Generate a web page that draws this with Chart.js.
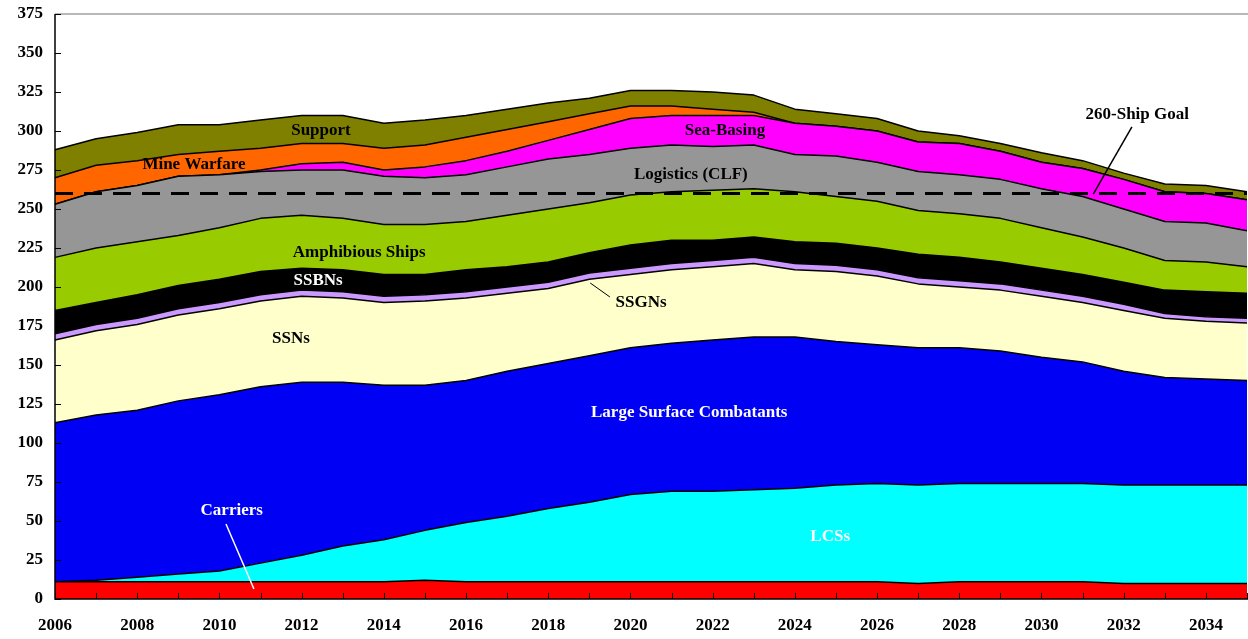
<!DOCTYPE html>
<html>
<head>
<meta charset="utf-8">
<script src="https://cdn.jsdelivr.net/npm/chart.js@4.4.1/dist/chart.umd.min.js"></script>
<style>
html,body{margin:0;padding:0;background:#fff;}
#wrap{width:1248px;height:639px;position:relative;}
</style>
</head>
<body>
<div id="wrap"><canvas id="c" width="1248" height="639"></canvas></div>
<script>
// ---- Data ----
const years = [2006,2007,2008,2009,2010,2011,2012,2013,2014,2015,2016,2017,2018,2019,2020,2021,2022,2023,2024,2025,2026,2027,2028,2029,2030,2031,2032,2033,2034,2035];
const yMin = 0, yMax = 375, yStep = 25;
const goalValue = 260;

const carriers   = [11,11,11,11,11,11,11,11,11,12,11,11,11,11,11,11,11,11,11,11,11,10,11,11,11,11,10,10,10,10];
const lcss       = [0,1,3,5,7,12,17,23,27,32,38,42,47,51,56,58,58,59,60,62,63,63,63,63,63,63,63,63,63,63];
const largeSurf  = [102,106,107,111,113,113,111,105,99,93,91,93,93,94,94,95,97,98,97,92,89,88,87,85,81,78,73,69,68,67];
const ssns       = [53,54,55,55,55,55,55,54,53,54,53,50,48,49,47,47,47,47,43,45,44,41,39,39,39,38,39,38,37,37];
const ssgns      = [4,4,4,4,4,4,4,4,4,4,4,4,4,4,4,4,4,4,4,4,4,4,4,4,4,4,4,3,3,3];
const ssbns      = [15,14,15,15,15,15,14,14,14,13,14,13,13,13,15,15,13,13,14,14,14,15,15,14,14,14,14,15,16,16];
const amphibious = [34,35,34,32,33,34,34,33,32,32,31,33,34,32,32,31,32,31,32,30,30,28,28,28,26,24,22,19,19,17];
const logistics  = [34,36,36,38,34,30,29,31,31,30,30,31,32,31,30,30,28,28,24,26,25,25,25,25,25,26,25,25,25,23];
const seaBasing  = [0,0,0,0,0,1,4,5,4,7,9,10,12,16,19,19,20,19,20,19,20,19,20,18,17,18,19,19,19,20];
const mineWar    = [17,17,16,14,15,14,13,12,14,14,15,14,12,10,8,6,4,2,0,0,0,0,0,0,0,0,0,0,0,0];
const support    = [18,17,18,19,17,18,18,18,16,16,14,13,12,10,10,10,11,11,9,8,8,7,5,5,6,5,4,5,5,5];

const seriesNames = ['Carriers','LCSs','Large Surface Combatants','SSNs','SSGNs','SSBNs','Amphibious Ships','Logistics (CLF)','Sea-Basing','Mine Warfare','Support'];
const seriesData  = [carriers,lcss,largeSurf,ssns,ssgns,ssbns,amphibious,logistics,seaBasing,mineWar,support];
const seriesColors = ['#FF0000','#00FFFF','#0000F5','#FFFFCC','#CC99FF','#000000','#99CC00','#969696','#FF00FF','#FF6600','#808000'];

// ---- Annotations (placed in data coordinates: year, value) ----
const annotations = [
  {text:'Support', x:2012.47, y:300, color:'#000'},
  {text:'Mine Warfare', x:2009.38, y:278.2, color:'#000'},
  {text:'Sea-Basing', x:2022.3, y:300, color:'#000'},
  {text:'Logistics (CLF)', x:2021.47, y:272, color:'#000'},
  {text:'Amphibious Ships', x:2013.4, y:221.8, color:'#000'},
  {text:'SSBNs', x:2012.4, y:203.8, color:'#fff'},
  {text:'SSGNs', x:2020.26, y:189.7, color:'#000'},
  {text:'SSNs', x:2011.74, y:166.7, color:'#000'},
  {text:'Large Surface Combatants', x:2021.43, y:119.2, color:'#fff'},
  {text:'Carriers', x:2010.3, y:56.4, color:'#fff'},
  {text:'LCSs', x:2024.86, y:39.7, color:'#fff'},
  {text:'260-Ship Goal', x:2032.33, y:310.3, color:'#000'}
];
const leaders = [
  {x1:2019.02, y1:202.6, x2:2019.5, y2:193.6, color:'#000', w:1},
  {x1:2010.16, y1:48.1, x2:2010.84, y2:6.4, color:'#fff', w:1.5},
  {x1:2032.2, y1:302.6, x2:2031.26, y2:259.5, color:'#000', w:1.5}
];

const FONT = '"Liberation Serif", "Times New Roman", serif';

const datasets = seriesData.map((d, i) => ({
  label: seriesNames[i],
  data: d,
  backgroundColor: seriesColors[i],
  borderColor: '#000',
  borderWidth: 1.5,
  pointRadius: 0,
  tension: 0,
  fill: i === 0 ? 'origin' : '-1'
}));
datasets.push({
  label: '260-Ship Goal',
  data: years.map(() => goalValue),
  stack: 'goal',
  borderColor: '#000',
  borderWidth: 3,
  borderDash: [18, 11],
  pointRadius: 0,
  fill: false,
  order: -1
});

const overlay = {
  id: 'overlay',
  afterDatasetsDraw(chart) {
    const ctx = chart.ctx, xs = chart.scales.x, ys = chart.scales.y, ca = chart.chartArea;
    ctx.save();
    // top frame line
    ctx.strokeStyle = '#a0a0a0'; ctx.lineWidth = 1.5;
    ctx.beginPath(); ctx.moveTo(ca.left, ca.top); ctx.lineTo(chart.width, ca.top); ctx.stroke();
    // axes lines
    ctx.strokeStyle = '#000'; ctx.lineWidth = 1.5;
    ctx.beginPath(); ctx.moveTo(ca.left, ca.top); ctx.lineTo(ca.left, ca.bottom); ctx.lineTo(chart.width, ca.bottom); ctx.stroke();
    // inward tick marks
    ctx.lineWidth = 1;
    ys.ticks.forEach(t => {
      const py = Math.round(ys.getPixelForValue(t.value)) + 0.5;
      ctx.beginPath(); ctx.moveTo(ca.left, py); ctx.lineTo(ca.left + 6, py); ctx.stroke();
    });
    years.forEach((yr, i) => {
      const px = Math.round(xs.getPixelForValue(i)) + 0.5;
      ctx.beginPath(); ctx.moveTo(px, ca.bottom); ctx.lineTo(px, ca.bottom - 6); ctx.stroke();
    });
    // leader lines
    leaders.forEach(l => {
      ctx.strokeStyle = l.color; ctx.lineWidth = l.w;
      ctx.beginPath();
      ctx.moveTo(xs.getPixelForValue(l.x1 - years[0]), ys.getPixelForValue(l.y1));
      ctx.lineTo(xs.getPixelForValue(l.x2 - years[0]), ys.getPixelForValue(l.y2));
      ctx.stroke();
    });
    // labels
    ctx.font = 'bold 17px ' + FONT;
    ctx.textAlign = 'center'; ctx.textBaseline = 'middle';
    annotations.forEach(a => {
      ctx.fillStyle = a.color;
      ctx.fillText(a.text, xs.getPixelForValue(a.x - years[0]), ys.getPixelForValue(a.y));
    });
    ctx.restore();
  }
};

new Chart(document.getElementById('c'), {
  type: 'line',
  data: { labels: years.map(String), datasets },
  options: {
    responsive: false,
    animation: false,
    devicePixelRatio: 1,
    layout: { padding: { top: 14, right: 1, left: 0, bottom: 0 } },
    plugins: { legend: { display: false }, tooltip: { enabled: false } },
    elements: { line: { borderJoinStyle: 'round' } },
    scales: {
      x: {
        type: 'category',
        offset: false,
        grid: { display: false, drawTicks: false },
        border: { display: false },
        ticks: {
          autoSkip: false, maxRotation: 0, padding: 16,
          color: '#000',
          font: { family: FONT, size: 17, weight: 'bold' },
          callback: function(v, i) { return years[i] % 2 === 0 ? String(years[i]) : ''; }
        },
        afterFit(s) { s.height = 40; s.paddingLeft = 0; s.paddingRight = 0; }
      },
      y: {
        stacked: true,
        min: yMin, max: yMax,
        grid: { display: false, drawTicks: false },
        border: { display: false },
        ticks: {
          stepSize: yStep, padding: 12,
          color: '#000',
          font: { family: FONT, size: 17, weight: 'bold' }
        },
        afterFit(s) { s.width = 55; s.paddingTop = 0; s.paddingBottom = 0; }
      }
    }
  },
  plugins: [overlay]
});
</script>
</body>
</html>
